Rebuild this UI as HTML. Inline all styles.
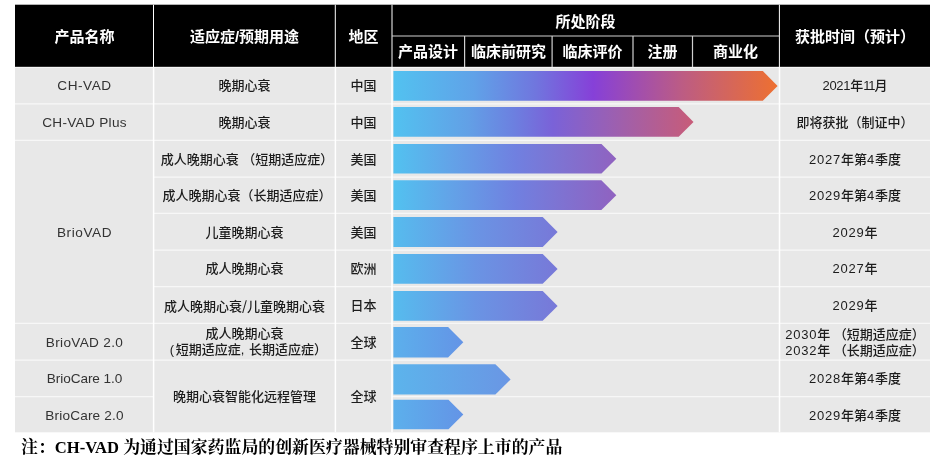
<!DOCTYPE html>
<html lang="zh-CN">
<head>
<meta charset="utf-8">
<title>产品管线</title>
<style>
html,body{margin:0;padding:0;background:#fff;}
body{width:942px;height:462px;position:relative;overflow:hidden;
  font-family:"Liberation Sans","Noto Sans CJK SC",sans-serif;}
.h{position:absolute;color:#fff;font-weight:bold;font-size:15px;line-height:20px;height:20px;
  text-align:center;white-space:nowrap;}
.c{position:absolute;color:#1c1c1c;font-weight:500;font-size:13px;line-height:16px;text-align:center;white-space:nowrap;}
.l{color:#333;font-size:13.6px;}
.cj{font-family:"Noto Sans CJK SC",sans-serif;}
.n{letter-spacing:0.8px;}
.n1{letter-spacing:-1.2px;margin-right:0.2px;}
svg{position:absolute;left:0;top:0;}
#note{position:absolute;left:21px;top:437px;font-family:"Liberation Serif","Noto Serif CJK SC",serif;font-weight:bold;
  font-size:16.9px;line-height:22px;color:#000;white-space:nowrap;}
</style>
</head>
<body>

<!-- grid lines -->
<svg width="942" height="462" viewBox="0 0 942 462">
<rect x="15" y="4.7" width="915" height="62.2" fill="#000"/>
<rect x="15" y="66.9" width="915" height="365.4" fill="#e8e8e8"/>
<g stroke="#f7f7f7" stroke-width="1.2" fill="none">
<path d="M15 67.5H930"/>
<path d="M15 103.8H930M15 140.3H930M153.5 177.2H930M153.5 213.4H930M153.5 250.1H930M153.5 286.6H930M15 323.4H930M15 360.1H930M15 396.7H153.5M392 396.7H930"/>
</g>
<g stroke="#fff" stroke-width="1.5" fill="none">
<path d="M153.6 67V432.3M335.4 67V432.3M392 67V432.3M779.5 67V432.3"/>
</g>
<g stroke="#fff" stroke-width="1" fill="none">
<path d="M153.5 4.7V67M335.3 4.7V67M392 4.7V67M779.4 4.7V67"/>
</g>
<g stroke="#d0d0d0" stroke-width="1.2" fill="none">
<path d="M392 36H779.4M464.6 36V67M552.1 36V67M633 36V67M692.5 36V67"/>
</g>
</svg>
<!-- header text -->
<div class="h" style="left:15px;width:139px;top:27px">产品名称</div>
<div class="h" style="left:154px;width:181px;top:27px">适应症/预期用途</div>
<div class="h" style="left:335px;width:57px;top:27px">地区</div>
<div class="h" style="left:392px;width:387px;top:12px">所处阶段</div>
<div class="h" style="left:392px;width:72px;top:42px">产品设计</div>
<div class="h" style="left:465px;width:87px;top:42px">临床前研究</div>
<div class="h" style="left:552px;width:81px;top:42px">临床评价</div>
<div class="h" style="left:633px;width:59px;top:42px">注册</div>
<div class="h" style="left:692px;width:87px;top:42px">商业化</div>
<div class="h" style="left:780px;width:150px;top:27px">获批时间（预计）</div>

<!-- column 1 -->
<div class="c l" style="left:15px;width:139px;top:78px;letter-spacing:0.55px">CH-VAD</div>
<div class="c l" style="left:15px;width:139px;top:115px;letter-spacing:0.31px">CH-VAD Plus</div>
<div class="c l" style="left:15px;width:139px;top:225px;letter-spacing:0.57px">BrioVAD</div>
<div class="c l" style="left:15px;width:139px;top:335px;letter-spacing:0.32px">BrioVAD 2.0</div>
<div class="c l" style="left:15px;width:139px;top:371px;letter-spacing:-0.08px">BrioCare 1.0</div>
<div class="c l" style="left:15px;width:139px;top:408px;letter-spacing:0.17px">BrioCare 2.0</div>

<!-- column 2 -->
<div class="c" style="left:154px;width:181px;top:78px">晚期心衰</div>
<div class="c" style="left:154px;width:181px;top:115px">晚期心衰</div>
<div class="c" style="left:156.5px;width:181px;top:152px">成人晚期心衰 （短期适应症）</div>
<div class="c" style="left:156.5px;width:181px;top:188px">成人晚期心衰（长期适应症）</div>
<div class="c" style="left:154px;width:181px;top:225px">儿童晚期心衰</div>
<div class="c" style="left:154px;width:181px;top:261px">成人晚期心衰</div>
<div class="c" style="left:154px;width:181px;top:298px">成人晚期心衰<span class="cj">/</span>儿童晚期心衰</div>
<div class="c" style="left:154px;width:181px;top:326px;line-height:15.5px">成人晚期心衰<br><span style="position:relative;left:3.8px"><span style="margin-right:1.6px">(</span>短期适应症<span style="margin-right:1px">,</span> 长期适应症）</span></div>
<div class="c" style="left:154px;width:181px;top:389px">晚期心衰智能化远程管理</div>

<!-- column 3 -->
<div class="c" style="left:335px;width:57px;top:78px">中国</div>
<div class="c" style="left:335px;width:57px;top:115px">中国</div>
<div class="c" style="left:335px;width:57px;top:152px">美国</div>
<div class="c" style="left:335px;width:57px;top:188px">美国</div>
<div class="c" style="left:335px;width:57px;top:225px">美国</div>
<div class="c" style="left:335px;width:57px;top:261px">欧洲</div>
<div class="c" style="left:335px;width:57px;top:298px">日本</div>
<div class="c" style="left:335px;width:57px;top:335px">全球</div>
<div class="c" style="left:335px;width:57px;top:389px">全球</div>

<!-- bars -->
<svg width="942" height="462" viewBox="0 0 942 462">
<defs>
<linearGradient id="g1" gradientUnits="userSpaceOnUse" x1="393" y1="0" x2="778" y2="0">
  <stop offset="0" stop-color="#52c2f0"/><stop offset="0.21" stop-color="#60a2e8"/>
  <stop offset="0.37" stop-color="#7076de"/><stop offset="0.52" stop-color="#8640d8"/>
  <stop offset="0.75" stop-color="#bc5c84"/><stop offset="1" stop-color="#ee7030"/>
</linearGradient>
<linearGradient id="g2" gradientUnits="userSpaceOnUse" x1="393" y1="0" x2="694" y2="0">
  <stop offset="0" stop-color="#52c2f0"/><stop offset="0.25" stop-color="#62a0e6"/>
  <stop offset="0.4" stop-color="#6c80e0"/><stop offset="0.53" stop-color="#7a62d8"/>
  <stop offset="0.7" stop-color="#9660b8"/><stop offset="1" stop-color="#c85c78"/>
</linearGradient>
<linearGradient id="g3" gradientUnits="userSpaceOnUse" x1="393" y1="0" x2="616" y2="0">
  <stop offset="0" stop-color="#52c2f0"/><stop offset="0.25" stop-color="#62a4e8"/>
  <stop offset="0.55" stop-color="#7080e0"/><stop offset="1" stop-color="#9062c0"/>
</linearGradient>
<linearGradient id="g4" gradientUnits="userSpaceOnUse" x1="393" y1="0" x2="558" y2="0">
  <stop offset="0" stop-color="#56bcee"/><stop offset="0.5" stop-color="#6a94e4"/>
  <stop offset="1" stop-color="#7878d8"/>
</linearGradient>
<linearGradient id="g5" gradientUnits="userSpaceOnUse" x1="393" y1="0" x2="511" y2="0">
  <stop offset="0" stop-color="#5cb4ec"/><stop offset="1" stop-color="#6a96e4"/>
</linearGradient>
<linearGradient id="g6" gradientUnits="userSpaceOnUse" x1="393" y1="0" x2="463" y2="0">
  <stop offset="0" stop-color="#5cb0ec"/><stop offset="1" stop-color="#6494e6"/>
</linearGradient>
</defs>
<path fill="url(#g1)" d="M393.4 71.1H762.8L777.6 85.90L762.8 100.7H393.4Z"/>
<path fill="url(#g2)" d="M393.4 107.1H678.7L693.5 121.90L678.7 136.7H393.4Z"/>
<path fill="url(#g3)" d="M393.4 144H601.5L616.3 158.80L601.5 173.6H393.4Z"/>
<path fill="url(#g3)" d="M393.4 180.3H601.4L616.3 195.20L601.4 210.1H393.4Z"/>
<path fill="url(#g4)" d="M393.4 217.1H542.7L557.6 232.00L542.7 246.9H393.4Z"/>
<path fill="url(#g4)" d="M393.4 254H542.7L557.6 268.90L542.7 283.8H393.4Z"/>
<path fill="url(#g4)" d="M393.4 291H542.7L557.6 305.90L542.7 320.8H393.4Z"/>
<path fill="url(#g6)" d="M393.4 327.1H448.1L463.3 342.30L448.1 357.5H393.4Z"/>
<path fill="url(#g5)" d="M393.4 364.2H495.4L510.6 379.40L495.4 394.6H393.4Z"/>
<path fill="url(#g6)" d="M393.4 399.7H448.5L463.3 414.50L448.5 429.3H393.4Z"/>
</svg>

<!-- last column -->
<div class="c" style="left:780px;width:150px;top:78px"><span style="letter-spacing:-0.3px">2021</span>年<span class="n1">11</span>月</div>
<div class="c" style="left:780px;width:150px;top:115px">即将获批（制证中）</div>
<div class="c" style="left:780px;width:150px;top:152px"><span class="n">2027</span>年第<span class="n">4</span>季度</div>
<div class="c" style="left:780px;width:150px;top:188px"><span class="n">2029</span>年第<span class="n">4</span>季度</div>
<div class="c" style="left:780px;width:150px;top:225px"><span class="n">2029</span>年</div>
<div class="c" style="left:780px;width:150px;top:261px"><span class="n">2027</span>年</div>
<div class="c" style="left:780px;width:150px;top:298px"><span class="n">2029</span>年</div>
<div class="c" style="left:780px;width:150px;top:327px;line-height:15.5px"><span class="n">2030</span>年 （短期适应症）<br><span class="n">2032</span>年 （长期适应症）</div>
<div class="c" style="left:780px;width:150px;top:371px"><span class="n">2028</span>年第<span class="n">4</span>季度</div>
<div class="c" style="left:780px;width:150px;top:408px"><span class="n">2029</span>年第<span class="n">4</span>季度</div>

<div id="note">注：<span style="font-size:16.6px">CH-VAD </span>为通过国家药监局的创新医疗器械特别审查程序上市的产品</div>
</body>
</html>
